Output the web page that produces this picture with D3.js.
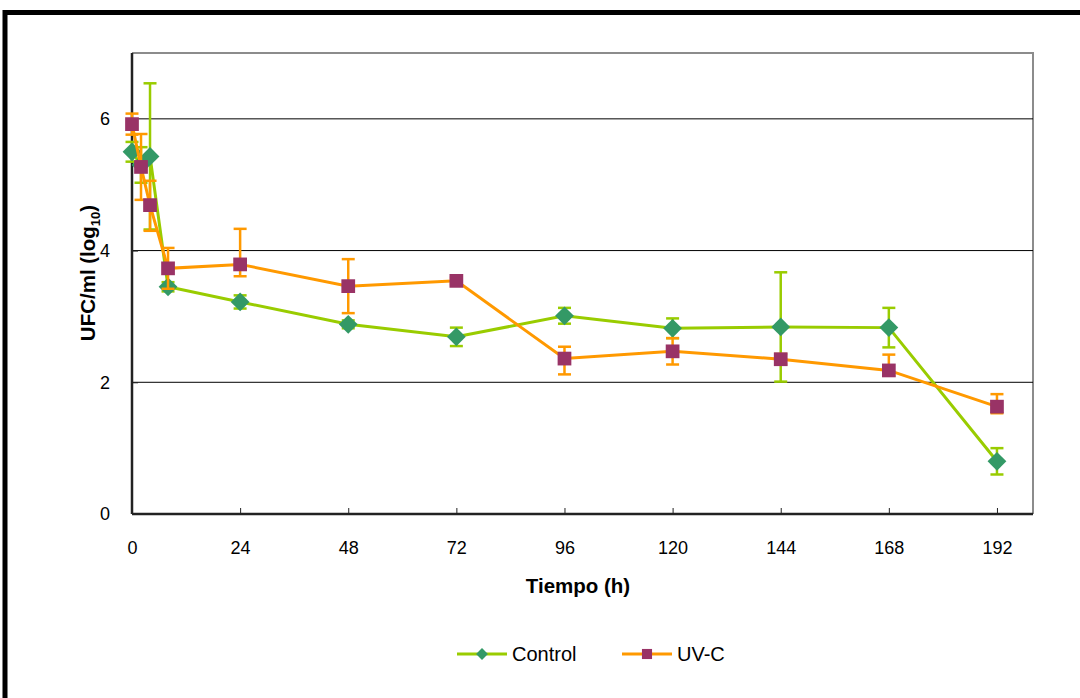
<!DOCTYPE html>
<html>
<head>
<meta charset="utf-8">
<script src="https://cdn.jsdelivr.net/npm/d3@7"></script>
<style>
  body { margin: 0; background: #fff; }
  svg { display: block; font-family: "Liberation Sans", Arial, sans-serif; }
</style>
</head>
<body>
<svg id="chart" width="1080" height="698"></svg>
<script>
  // sampling times (h)
  var times = [0, 2, 4, 8, 24, 48, 72, 96, 120, 144, 168, 192];

  // Control
  var controlVals = [5.50, 5.30, 5.43, 3.45, 3.22, 2.88, 2.69, 3.01, 2.82, 2.84, 2.83, 0.80];
  var controlErrUp = [0.15, 0.27, 1.11, 0.07, 0.10, 0.06, 0.14, 0.12, 0.15, 0.83, 0.30, 0.20];
  var controlErrDown = [0.15, 0.27, 1.11, 0.07, 0.10, 0.06, 0.14, 0.12, 0.15, 0.83, 0.30, 0.20];

  // UV-C
  var uvcVals = [5.92, 5.27, 4.69, 3.73, 3.79, 3.46, 3.54, 2.36, 2.47, 2.35, 2.18, 1.63];
  var uvcErrUp = [0.16, 0.50, 0.37, 0.31, 0.54, 0.41, 0.05, 0.18, 0.20, 0.08, 0.24, 0.19];
  var uvcErrDown = [0.16, 0.50, 0.39, 0.31, 0.18, 0.41, 0.05, 0.24, 0.20, 0.08, 0.08, 0.10];

  var xTicks = [0, 24, 48, 72, 96, 120, 144, 168, 192];
  var yTicks = [0, 2, 4, 6];

(function() {
  var svg = d3.select('#chart');

  // outer black frame
  svg.append('rect').attr('x', 5).attr('y', 12.5).attr('width', 1200).attr('height', 800)
    .attr('fill', 'none').attr('stroke', '#000').attr('stroke-width', 5);

  var plotL = 132, plotR = 1033, plotT = 53, plotB = 514;

  var x = d3.scaleLinear().domain([0, 200]).range([plotL, plotR]);
  var y = d3.scaleLinear().domain([0, 7]).range([plotB, plotT]);

  // plot frame (top/right gray)
  svg.append('path')
    .attr('d', 'M' + plotL + ',' + plotT + 'H' + plotR + 'V' + plotB)
    .attr('fill', 'none').attr('stroke', '#8c8c8c').attr('stroke-width', 2);

  // gridlines
  svg.append('g').selectAll('line').data(yTicks.filter(function(d) { return d > 0; }))
    .enter().append('line')
    .attr('x1', plotL).attr('x2', plotR)
    .attr('y1', function(d) { return y(d); }).attr('y2', function(d) { return y(d); })
    .attr('stroke', '#000').attr('stroke-width', 1);

  // axes
  var yAxis = svg.append('g').attr('transform', 'translate(' + plotL + ',0)')
    .call(d3.axisLeft(y).tickValues(yTicks).tickSize(-6).tickPadding(22).tickFormat(d3.format('d')));
  var xAxis = svg.append('g').attr('transform', 'translate(0,' + plotB + ')')
    .call(d3.axisBottom(x).tickValues(xTicks).tickSize(-6).tickPadding(27).tickFormat(d3.format('d')));
  [yAxis, xAxis].forEach(function(a) {
    a.select('.domain').attr('stroke', '#222').attr('stroke-width', 2.5);
    a.selectAll('.tick line').attr('stroke', '#222');
    a.selectAll('.tick text').attr('font-size', 18).attr('fill', '#000')
      .style('font-family', '"Liberation Sans", Arial, sans-serif');
  });
  yAxis.select('.domain').attr('d', 'M0,' + plotB + 'V' + plotT);
  xAxis.select('.domain').attr('d', 'M' + plotL + ',0H' + plotR);

  // axis titles
  svg.append('text').attr('x', 578).attr('y', 593).attr('text-anchor', 'middle')
    .attr('font-size', 20.5).attr('font-weight', 'bold').text('Tiempo (h)');

  var yt = svg.append('text').attr('transform', 'translate(95,273) rotate(-90)')
    .attr('text-anchor', 'middle').attr('font-size', 20.5).attr('font-weight', 'bold');
  yt.append('tspan').text('UFC/ml (log');
  yt.append('tspan').attr('font-size', 13).attr('dy', 5).text('10');
  yt.append('tspan').attr('dy', -5).text(')');

  var series = [
    { name: 'Control', vals: controlVals, up: controlErrUp, down: controlErrDown,
      line: '#99cc00', marker: '#339966', shape: d3.symbolDiamond2, size: 15 },
    { name: 'UV-C', vals: uvcVals, up: uvcErrUp, down: uvcErrDown,
      line: '#ff9900', marker: '#993366', shape: d3.symbolSquare2, size: 15.5 }
  ];

  series.forEach(function(s) {
    var pts = times.map(function(t, i) {
      return { t: t, v: s.vals[i], up: s.up[i], down: s.down[i] };
    });
    var g = svg.append('g');

    // error bars
    var eb = g.selectAll('.eb').data(pts).enter().append('g').attr('class', 'eb')
      .attr('stroke', s.line).attr('stroke-width', 2.5);
    eb.append('line')
      .attr('x1', function(d) { return x(d.t); }).attr('x2', function(d) { return x(d.t); })
      .attr('y1', function(d) { return y(d.v + d.up); }).attr('y2', function(d) { return y(d.v - d.down); });
    eb.append('line')
      .attr('x1', function(d) { return x(d.t) - 6.5; }).attr('x2', function(d) { return x(d.t) + 6.5; })
      .attr('y1', function(d) { return y(d.v + d.up); }).attr('y2', function(d) { return y(d.v + d.up); });
    eb.append('line')
      .attr('x1', function(d) { return x(d.t) - 6.5; }).attr('x2', function(d) { return x(d.t) + 6.5; })
      .attr('y1', function(d) { return y(d.v - d.down); }).attr('y2', function(d) { return y(d.v - d.down); });

    // line
    g.append('path').datum(pts)
      .attr('d', d3.line().x(function(d) { return x(d.t); }).y(function(d) { return y(d.v); }))
      .attr('fill', 'none').attr('stroke', s.line).attr('stroke-width', 3);

    // markers
    g.selectAll('.mk').data(pts).enter().append('path').attr('class', 'mk')
      .attr('transform', function(d) { return 'translate(' + x(d.t) + ',' + y(d.v) + ')'; })
      .attr('d', d3.symbol().type(s.shape).size(s.size * s.size))
      .attr('fill', s.marker).attr('stroke', 'none');
  });

  // legend
  var legX = [457, 622];
  var lg = svg.append('g');
  series.forEach(function(s, i) {
    var lx = legX[i], ly = 654;
    lg.append('line').attr('x1', lx).attr('x2', lx + 50).attr('y1', ly).attr('y2', ly)
      .attr('stroke', s.line).attr('stroke-width', 3);
    lg.append('path').attr('transform', 'translate(' + (lx + 25) + ',' + ly + ')')
      .attr('d', d3.symbol().type(s.shape).size(i === 0 ? 90 : 130))
      .attr('fill', s.marker);
    lg.append('text').attr('x', lx + 55).attr('y', ly + 7).attr('font-size', 20).text(s.name);
  });
})();
</script>
</body>
</html>
